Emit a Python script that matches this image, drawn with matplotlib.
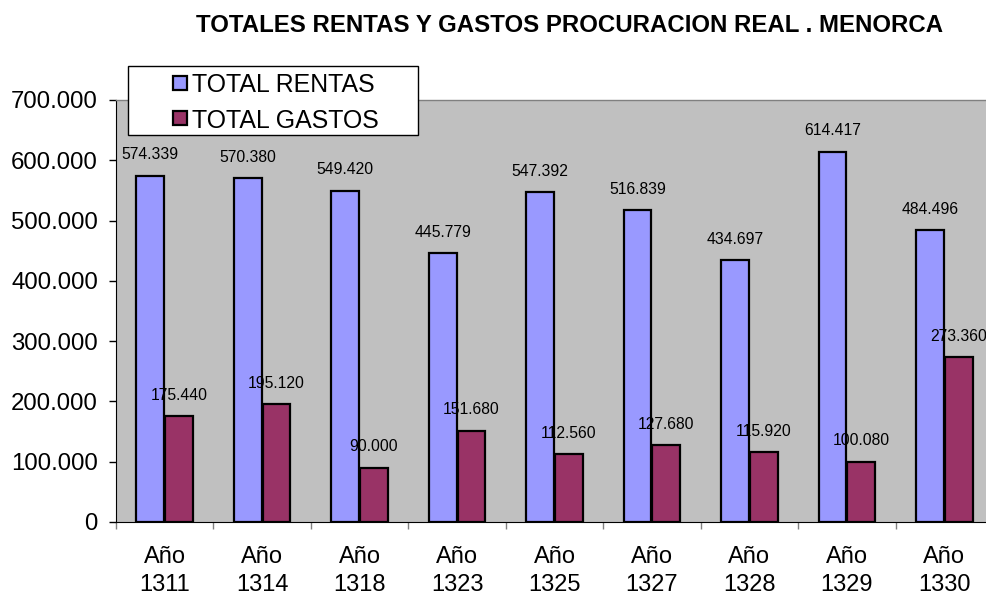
import matplotlib
matplotlib.use("Agg")
import matplotlib.pyplot as plt
from matplotlib.ticker import FuncFormatter, FixedLocator
from matplotlib.patches import Rectangle

plt.rcParams['font.family'] = ['Liberation Sans', 'DejaVu Sans']

categories = ["Año\n1311", "Año\n1314", "Año\n1318", "Año\n1323", "Año\n1325",
              "Año\n1327", "Año\n1328", "Año\n1329", "Año\n1330"]
rentas = [574339, 570380, 549420, 445779, 547392, 516839, 434697, 614417, 484496]
gastos = [175440, 195120, 90000, 151680, 112560, 127680, 115920, 100080, 273360]
series_names = ["TOTAL RENTAS", "TOTAL GASTOS"]
title = "TOTALES RENTAS Y GASTOS PROCURACION REAL . MENORCA"

c_rentas = "#9999FF"
c_gastos = "#993366"

W, H = 986, 597

def fmt(v):
    return f"{int(v):,}".replace(",", ".")

def fx(px):
    return px / W

def fy(py):
    return 1 - py / H

fig = plt.figure(figsize=(W/100, H/100), dpi=100)
ax = fig.add_axes([fx(116), fy(522), 877/W, 422/H])
ax.set_facecolor("#C0C0C0")

n = len(categories)
centers = [i + 0.5 for i in range(n)]
w = 0.285
xr = [c - w/2 - 0.005 for c in centers]
xg = [c + w/2 + 0.005 for c in centers]
ax.bar(xr, rentas, width=w, color=c_rentas, edgecolor="black", linewidth=1.6, zorder=2)
ax.bar(xg, gastos, width=w, color=c_gastos, edgecolor="black", linewidth=1.6, zorder=2)

for xs, vals in ((xr, rentas), (xg, gastos)):
    for x, v in zip(xs, vals):
        ax.annotate(fmt(v), (x, v), xytext=(0, 15), textcoords="offset points",
                    ha="center", va="center", fontsize=11.3, zorder=4,
                    annotation_clip=False)

ax.set_xlim(0, n)
ax.set_ylim(0, 700000)
ax.yaxis.set_major_locator(FixedLocator([i * 100000 for i in range(8)]))
ax.yaxis.set_major_formatter(FuncFormatter(lambda v, p: fmt(v)))
ax.tick_params(axis="y", labelsize=17.3, length=5, width=1, direction="out", pad=8)

ax.set_xticks(range(n + 1))
ax.set_xticklabels([""] * (n + 1))
ax.set_xticks(centers, minor=True)
ax.set_xticklabels(categories, minor=True, fontsize=17, linespacing=1.4)
ax.tick_params(axis="x", which="major", length=5, width=1, color="#808080", direction="out")
ax.tick_params(axis="x", which="minor", length=0, pad=17)

for s in ["top", "right"]:
    ax.spines[s].set_color("#808080")
    ax.spines[s].set_linewidth(1)
ax.spines["left"].set_color("black")
ax.spines["bottom"].set_color("black")

# legend box (drawn in figure pixels)
fig.patches.append(Rectangle((fx(128), fy(135)), (418-128)/W, (135-66)/H,
                             transform=fig.transFigure, facecolor="white",
                             edgecolor="black", linewidth=1, zorder=5))
for name, col, yc in ((series_names[0], c_rentas, 83), (series_names[1], c_gastos, 118)):
    fig.patches.append(Rectangle((fx(173), fy(yc + 7)), 14/W, 14/H,
                                 transform=fig.transFigure, facecolor=col,
                                 edgecolor="black", linewidth=1.6, zorder=6))
    fig.text(fx(192), fy(yc), name, ha="left", va="center_baseline",
             fontsize=17.9, zorder=6)

fig.text(fx(570), fy(25), title, ha="center", va="center", fontsize=17.25, fontweight="bold")

fig.savefig("out.png", dpi=100)
